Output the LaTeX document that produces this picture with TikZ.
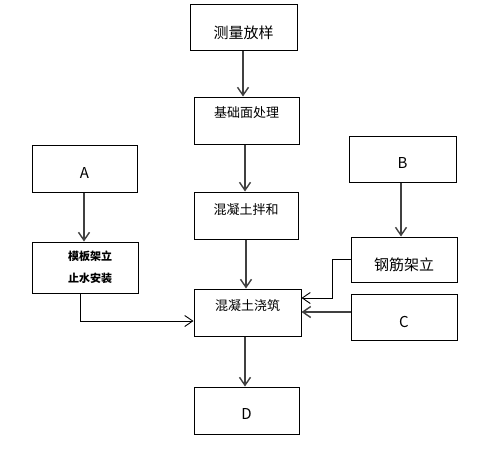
\documentclass[tikz,border=0pt]{standalone}
\usepackage{fontspec}
\setmainfont{Noto Sans CJK SC}
\usetikzlibrary{arrows.meta}
\definecolor{linegray}{RGB}{64,64,64}
\newcommand{\shifttext}[2]{\raisebox{#1}[\height][\depth]{#2}}

\begin{document}
\begin{tikzpicture}[x=1pt, y=-1pt,
        stepbox/.style={draw, line width=1pt, minimum width=105pt, minimum height=47pt, inner sep=0pt, font=\fontsize{13}{15}\selectfont},
        flow/.style={-{Straight Barb[length=8pt,width=11pt]}, line width=1.4pt, linegray},
        elbow/.style={-{Straight Barb[length=8pt,width=11pt]}, line width=0.9pt}]
        \useasboundingbox (0,0) rectangle (501,450);
        \node[stepbox, minimum width=107pt, minimum height=46pt, font=\fontsize{15}{17}\selectfont] (survey) at (243.5,27) {\shifttext{-6pt}{测量放样}};
        \node[stepbox] (base) at (246.5,120.5) {\shifttext{7.5pt}{基础面处理}};
        \node[stepbox, minimum width=104pt] (mix) at (246,215.5) {\shifttext{5.5pt}{混凝土拌和}};
        \node[stepbox, minimum width=107pt] (pour) at (247.5,312.5) {\shifttext{6.5pt}{混凝土浇筑}};
        \node[stepbox, font=\fontsize{15}{17}\selectfont] (dnode) at (246.5,410.5) {\shifttext{-3.5pt}{D}};
        \node[stepbox, font=\fontsize{15}{17}\selectfont] (anode) at (84.5,168.5) {\shifttext{-4.5pt}{A}};
        \node[stepbox, minimum width=106pt, minimum height=51pt, align=center, font=\fontsize{11}{22}\selectfont\bfseries] (form) at (85,267.5) {\hspace{10pt}模板架立\\\hspace{10pt}止水安装};
        \node[stepbox, minimum width=107pt, minimum height=46pt, font=\fontsize{15}{17}\selectfont] (bnode) at (402.5,159) {\shifttext{-4pt}{B}};
        \node[stepbox, minimum width=106pt, minimum height=45pt, font=\fontsize{15}{17}\selectfont] (rebar) at (404,259.5) {\shifttext{-5.5pt}{钢筋架立}};
        \node[stepbox, minimum width=106pt, minimum height=46pt, font=\fontsize{15}{17}\selectfont] (cnode) at (404,317) {\shifttext{-5pt}{C}};
        \draw[flow] ([xshift=-0.5pt]survey.south) -- ([xshift=-0.5pt]survey.south |- base.north);
        \draw[flow] ([xshift=-1.5pt]base.south) -- ([xshift=-1.5pt]base.south |- mix.north);
        \draw[flow] (mix.south) -- (mix.south |- pour.north);
        \draw[flow] ([xshift=-2.5pt]pour.south) -- ([xshift=-2.5pt]pour.south |- dnode.north);
        \draw[flow] ([xshift=-0.5pt]anode.south) -- ([xshift=-0.5pt]anode.south |- form.north);
        \draw[elbow] ([xshift=-5pt]form.south) |- ([yshift=-8.5pt]pour.west);
        \draw[flow] ([xshift=-1.5pt]bnode.south) -- ([xshift=-1.5pt]bnode.south |- rebar.north);
        \draw[elbow] (rebar.west) -- ++(-18,0) |- ([yshift=14.5pt]pour.east);
        \draw[flow] ([yshift=5pt]cnode.west) -- ([yshift=5pt]cnode.west -| pour.east);
\end{tikzpicture}
\end{document}
